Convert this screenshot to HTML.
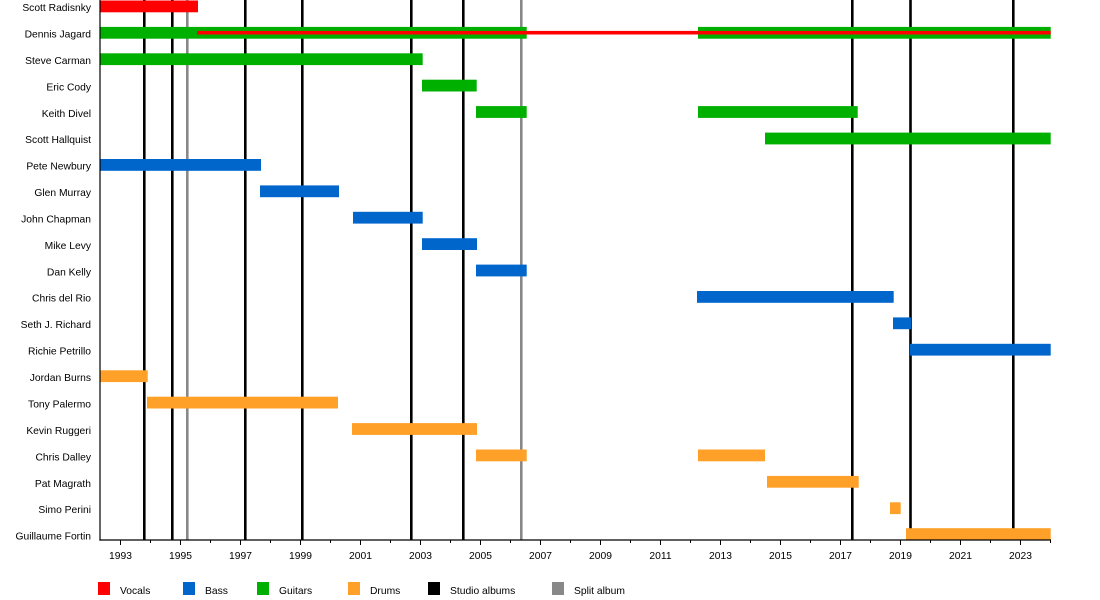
<!DOCTYPE html>
<html><head><meta charset="utf-8"><style>
html,body{margin:0;padding:0;background:#fff;}
svg{display:block;}
text{font-family:"Liberation Sans",Arial,sans-serif;font-size:10.3px;fill:#000;}
</style></head><body>
<svg width="1100" height="600" viewBox="0 0 1100 600" xmlns="http://www.w3.org/2000/svg">
<rect width="1100" height="600" fill="#fff"/>
<g stroke="#000" stroke-width="2.6">
<line x1="144.3" y1="0" x2="144.3" y2="540"/>
<line x1="172.3" y1="0" x2="172.3" y2="540"/>
<line x1="245.3" y1="0" x2="245.3" y2="540"/>
<line x1="302.3" y1="0" x2="302.3" y2="540"/>
<line x1="411.3" y1="0" x2="411.3" y2="540"/>
<line x1="463.3" y1="0" x2="463.3" y2="540"/>
<line x1="852.3" y1="0" x2="852.3" y2="540"/>
<line x1="910.5" y1="0" x2="910.5" y2="540"/>
<line x1="1013.3" y1="0" x2="1013.3" y2="540"/>
</g>
<g stroke="#888" stroke-width="2.6">
<line x1="187.3" y1="0" x2="187.3" y2="540"/>
<line x1="521.3" y1="0" x2="521.3" y2="540"/>
</g>
<g fill="#ff0000">
<rect x="100" y="0.5" width="98" height="11.8"/>
</g>
<g fill="#00b000">
<rect x="100" y="26.9" width="426.7" height="11.8"/>
<rect x="698" y="26.9" width="352.7" height="11.8"/>
<rect x="100" y="53.3" width="322.7" height="11.8"/>
<rect x="422" y="79.7" width="54.7" height="11.8"/>
<rect x="476" y="106.1" width="50.7" height="11.8"/>
<rect x="698" y="106.1" width="159.7" height="11.8"/>
<rect x="765" y="132.6" width="285.7" height="11.8"/>
</g>
<rect x="197" y="30.9" width="853.7" height="3.6" fill="#ff0000"/>
<g fill="#0066cc">
<rect x="100" y="159.0" width="161" height="11.8"/>
<rect x="260" y="185.4" width="79" height="11.8"/>
<rect x="353" y="211.8" width="69.7" height="11.8"/>
<rect x="422" y="238.2" width="55" height="11.8"/>
<rect x="476" y="264.6" width="50.7" height="11.8"/>
<rect x="697" y="291.0" width="196.7" height="11.8"/>
<rect x="893" y="317.4" width="18" height="11.8"/>
<rect x="910" y="343.8" width="140.7" height="11.8"/>
</g>
<g fill="#ffa028">
<rect x="100" y="370.3" width="47.7" height="11.8"/>
<rect x="147" y="396.7" width="191" height="11.8"/>
<rect x="352" y="423.1" width="125" height="11.8"/>
<rect x="476" y="449.5" width="50.7" height="11.8"/>
<rect x="698" y="449.5" width="67" height="11.8"/>
<rect x="767" y="475.9" width="91.7" height="11.8"/>
<rect x="890" y="502.3" width="10.7" height="11.8"/>
<rect x="906" y="528.2" width="144.7" height="11.8"/>
</g>
<g stroke="#000" stroke-width="1.2">
<line x1="100" y1="0" x2="100" y2="540.6"/>
<line x1="99.4" y1="540" x2="1051" y2="540"/>
</g>
<g stroke="#000" stroke-width="1">
<line x1="120.5" y1="540" x2="120.5" y2="545"/><line x1="150.5" y1="540" x2="150.5" y2="543"/>
<line x1="180.5" y1="540" x2="180.5" y2="545"/><line x1="210.5" y1="540" x2="210.5" y2="543"/>
<line x1="240.5" y1="540" x2="240.5" y2="545"/><line x1="270.5" y1="540" x2="270.5" y2="543"/>
<line x1="300.5" y1="540" x2="300.5" y2="545"/><line x1="330.5" y1="540" x2="330.5" y2="543"/>
<line x1="360.5" y1="540" x2="360.5" y2="545"/><line x1="390.5" y1="540" x2="390.5" y2="543"/>
<line x1="420.5" y1="540" x2="420.5" y2="545"/><line x1="450.5" y1="540" x2="450.5" y2="543"/>
<line x1="480.5" y1="540" x2="480.5" y2="545"/><line x1="510.5" y1="540" x2="510.5" y2="543"/>
<line x1="540.5" y1="540" x2="540.5" y2="545"/><line x1="570.5" y1="540" x2="570.5" y2="543"/>
<line x1="600.5" y1="540" x2="600.5" y2="545"/><line x1="630.5" y1="540" x2="630.5" y2="543"/>
<line x1="660.5" y1="540" x2="660.5" y2="545"/><line x1="690.5" y1="540" x2="690.5" y2="543"/>
<line x1="720.5" y1="540" x2="720.5" y2="545"/><line x1="750.5" y1="540" x2="750.5" y2="543"/>
<line x1="780.5" y1="540" x2="780.5" y2="545"/><line x1="810.5" y1="540" x2="810.5" y2="543"/>
<line x1="840.5" y1="540" x2="840.5" y2="545"/><line x1="870.5" y1="540" x2="870.5" y2="543"/>
<line x1="900.5" y1="540" x2="900.5" y2="545"/><line x1="930.5" y1="540" x2="930.5" y2="543"/>
<line x1="960.5" y1="540" x2="960.5" y2="545"/><line x1="990.5" y1="540" x2="990.5" y2="543"/>
<line x1="1020.5" y1="540" x2="1020.5" y2="545"/><line x1="1050.5" y1="540" x2="1050.5" y2="543"/>
</g>
<g text-anchor="middle">
<text x="120.5" y="559">1993</text><text x="180.5" y="559">1995</text><text x="240.5" y="559">1997</text>
<text x="300.5" y="559">1999</text><text x="360.5" y="559">2001</text><text x="420.5" y="559">2003</text>
<text x="480.5" y="559">2005</text><text x="540.5" y="559">2007</text><text x="600.5" y="559">2009</text>
<text x="660.5" y="559">2011</text><text x="720.5" y="559">2013</text><text x="780.5" y="559">2015</text>
<text x="840.5" y="559">2017</text><text x="900.5" y="559">2019</text><text x="960.5" y="559">2021</text>
<text x="1020.5" y="559">2023</text>
</g>
<g text-anchor="end">
<text x="91" y="11.1">Scott Radisnky</text>
<text x="91" y="37.5">Dennis Jagard</text>
<text x="91" y="63.9">Steve Carman</text>
<text x="91" y="90.3">Eric Cody</text>
<text x="91" y="116.8">Keith Divel</text>
<text x="91" y="143.2">Scott Hallquist</text>
<text x="91" y="169.6">Pete Newbury</text>
<text x="91" y="196.0">Glen Murray</text>
<text x="91" y="222.5">John Chapman</text>
<text x="91" y="248.9">Mike Levy</text>
<text x="91" y="275.3">Dan Kelly</text>
<text x="91" y="301.7">Chris del Rio</text>
<text x="91" y="328.2">Seth J. Richard</text>
<text x="91" y="354.6">Richie Petrillo</text>
<text x="91" y="381.0">Jordan Burns</text>
<text x="91" y="407.5">Tony Palermo</text>
<text x="91" y="433.9">Kevin Ruggeri</text>
<text x="91" y="460.3">Chris Dalley</text>
<text x="91" y="486.8">Pat Magrath</text>
<text x="91" y="513.2">Simo Perini</text>
<text x="91" y="539.6">Guillaume Fortin</text>
</g>
<rect x="98" y="582" width="12" height="13" fill="#ff0000"/><text x="120" y="594">Vocals</text>
<rect x="183" y="582" width="12" height="13" fill="#0066cc"/><text x="205" y="594">Bass</text>
<rect x="257" y="582" width="12" height="13" fill="#00b000"/><text x="279" y="594">Guitars</text>
<rect x="348" y="582" width="12" height="13" fill="#ffa028"/><text x="370" y="594">Drums</text>
<rect x="428" y="582" width="12" height="13" fill="#000"/><text x="450" y="594">Studio albums</text>
<rect x="552" y="582" width="12" height="13" fill="#888"/><text x="574" y="594">Split album</text>
</svg>
</body></html>
